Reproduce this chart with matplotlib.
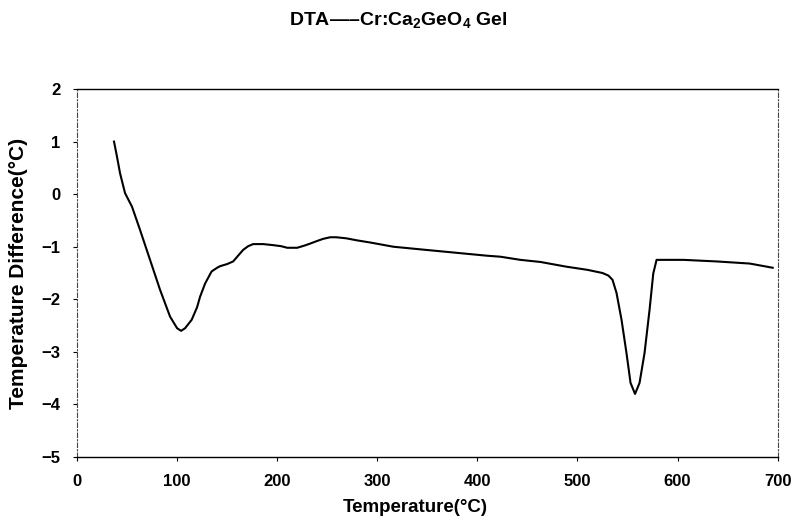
import matplotlib
matplotlib.use("Agg")
import matplotlib.pyplot as plt

plt.rcParams['font.family'] = ['Liberation Sans', 'DejaVu Sans']
plt.rcParams['font.weight'] = 'bold'
plt.rcParams['mathtext.fontset'] = 'custom'
plt.rcParams['mathtext.rm'] = 'Liberation Sans:bold'
plt.rcParams['mathtext.bf'] = 'Liberation Sans:bold'
plt.rcParams['mathtext.default'] = 'bf'

title = r'DTA—–Cr:Ca$_2$GeO$_4$ Gel'
xlabel = 'Temperature(°C)'
ylabel = 'Temperature Difference(°C)'

temperature = [37, 40, 43, 48, 55, 63, 73, 83, 93, 100, 104, 108, 114.6, 120, 123, 128,
               134.5, 140, 143, 150, 156, 161, 166, 171, 176, 186, 196, 204, 210, 220,
               227, 233, 240, 246, 253, 259, 269, 280, 293, 316, 343, 376, 409, 423, 443,
               463, 489, 510, 525, 531, 535, 539, 544, 549, 553, 557.5, 562, 567, 572,
               575.7, 579, 590, 606, 639, 672, 695]
difference = [1.0, 0.71, 0.40, 0.02, -0.24, -0.68, -1.25, -1.82, -2.33, -2.55, -2.60, -2.55,
              -2.39, -2.15, -1.95, -1.70, -1.47, -1.40, -1.37, -1.33, -1.28, -1.17, -1.06,
              -0.99, -0.95, -0.95, -0.97, -0.99, -1.02, -1.02, -0.98, -0.94, -0.89, -0.85,
              -0.82, -0.82, -0.84, -0.88, -0.92, -1.00, -1.05, -1.11, -1.17, -1.19, -1.25,
              -1.29, -1.38, -1.44, -1.50, -1.55, -1.63, -1.88, -2.39, -3.03, -3.59, -3.80,
              -3.59, -3.02, -2.20, -1.51, -1.25, -1.25, -1.25, -1.28, -1.32, -1.40]

xticks = [0, 100, 200, 300, 400, 500, 600, 700]
yticks = [2, 1, 0, -1, -2, -3, -4, -5]

fig = plt.figure(figsize=(7.96, 5.22), dpi=100)
ax = fig.add_axes([0.0967, 0.1245, 0.8803, 0.705])
ax.plot(temperature, difference, color='black', linewidth=1.5)
ax.set_xlim(0, 700)
ax.set_ylim(-5, 2)
ax.set_xticks(xticks)
ax.set_yticks(yticks)
ax.tick_params(axis='x', labelsize=12, length=3, width=0.8, direction='out', pad=9)
ax.tick_params(axis='y', labelsize=12, length=3, width=0.8, direction='out', pad=9)
for lab in ax.get_xticklabels() + ax.get_yticklabels():
    lab.set_fontweight('bold')
for s in ['left', 'right']:
    ax.spines[s].set_linestyle((0, (4, 2, 1, 2)))
    ax.spines[s].set_linewidth(0.8)
    ax.spines[s].set_color('#444444')
ax.spines['top'].set_linewidth(1.0)
ax.spines['bottom'].set_linewidth(1.0)

fig.text(0.5, 0.962, title, ha='center', va='center', fontsize=14, fontweight='bold')
fig.text(0.522, 0.027, xlabel, ha='center', va='center', fontsize=13.5, fontweight='bold')
fig.text(0.023, 0.477, ylabel, ha='center', va='center', rotation=90, fontsize=15, fontweight='bold')

fig.savefig('out.png', dpi=100)
